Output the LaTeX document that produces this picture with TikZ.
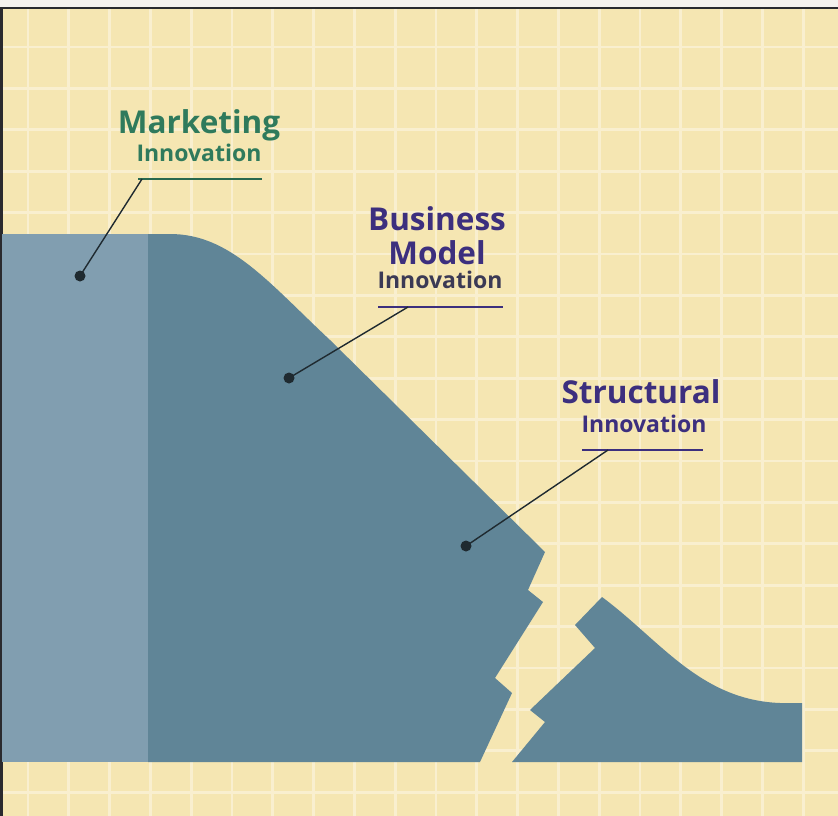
\documentclass[tikz,border=0pt]{standalone}
\usepackage{fontspec}
\setmainfont{Open Sans}
\usepackage{xcolor}
\usepackage{tikz}
\usetikzlibrary{calc,positioning}
\definecolor{paper}{HTML}{F5E6B2}
\definecolor{gridln}{HTML}{F9EFCF}
\definecolor{frame}{HTML}{2A2A2E}
\definecolor{topbg}{HTML}{F5F2EE}
\definecolor{slab}{HTML}{819EB0}
\definecolor{hill}{HTML}{608597}
\definecolor{mkgreen}{HTML}{2F7A5C}
\definecolor{bmpurple}{HTML}{3C2F7E}
\definecolor{subgrey}{HTML}{3B3A55}
\definecolor{leader}{HTML}{1F2A30}
\tikzset{
  gridline/.style={draw=gridln, line width=2.8pt},
  mainlab/.style={anchor=base, inner sep=0pt, font=\fontsize{31.5}{33}\selectfont\bfseries},
  sublab/.style={anchor=base, inner sep=0pt, font=\fontsize{23}{24}\selectfont\bfseries},
  uline/.style={line width=2.2pt},
  lead/.style={draw=leader, line width=1.4pt},
  dot/.style={circle, fill=leader, inner sep=0pt, minimum size=11pt},
}

\begin{document}
\begin{tikzpicture}[x=1pt, y=-1pt]
\useasboundingbox (0,0) rectangle (838,816);
% paper and grid
\fill[paper] (0,8) rectangle (838,816);
\fill[topbg] (0,0) rectangle (838,8);
\foreach \i in {0,...,19} {
  \draw[gridline] ({28+40.8*\i},8) -- ({28+40.8*\i},816);
}
\foreach \j in {0,...,18} {
  \draw[gridline] (0,{47+41.4*\j}) -- (838,{47+41.4*\j});
}
\draw[frame, line width=2pt] (0,8) -- (838,8);
\draw[frame, line width=3pt] (1,8) -- (1,816);

% hill
\fill[slab] (2,234) rectangle (148,762);
\fill[hill] (148,234) -- (170,234) .. controls (230,234) and (268,282) .. (330,340)
  -- (545,552) -- (528,590) -- (543,602) -- (495,678) -- (512,693) -- (480,762)
  -- (148,762) -- cycle;
% broken piece
\fill[hill] (512,762) -- (545,722) -- (530,710) -- (595,648) -- (575,625) -- (602,597)
  .. controls (660,640) and (700,700) .. (780,703) -- (802,703) -- (802,762) -- cycle;

% labels
\node[mainlab, text=mkgreen] (mkt) at (199,133) {Marketing};
\node[sublab, text=mkgreen] (mktinno) at (199,161) {Innovation};
\node[mainlab, text=bmpurple] (bus) at (437,230) {Business};
\node[mainlab, text=bmpurple] (model) at (437,264) {Model};
\node[sublab, text=subgrey] (businno) at (440,288) {Innovation};
\node[mainlab, text=bmpurple] (struct) at (641,403) {Structural};
\node[sublab, text=bmpurple] (strinno) at (644,432) {Innovation};

% underlines
\coordinate (mkl) at (138,179);
\coordinate (mkr) at (262,179);
\coordinate (bml) at (378,307);
\coordinate (bmr) at (503,307);
\coordinate (stl) at (582,450);
\coordinate (str) at (703,450);
\draw[uline, draw=mkgreen!85!black] (mkl) -- (mkr);
\draw[uline, draw=bmpurple] (bml) -- (bmr);
\draw[uline, draw=bmpurple] (stl) -- (str);

% dots and leaders
\node[dot] (mkdot) at (80,276) {};
\node[dot] (bmdot) at (289,378) {};
\node[dot] (stdot) at (466,546) {};
\coordinate (mklead) at (142,179);
\coordinate (bmlead) at (408,307);
\coordinate (stlead) at (608,450);
\draw[lead] (mklead) -- (mkdot.center);
\draw[lead] (bmlead) -- (bmdot.center);
\draw[lead] (stlead) -- (stdot.center);
\end{tikzpicture}
\end{document}
